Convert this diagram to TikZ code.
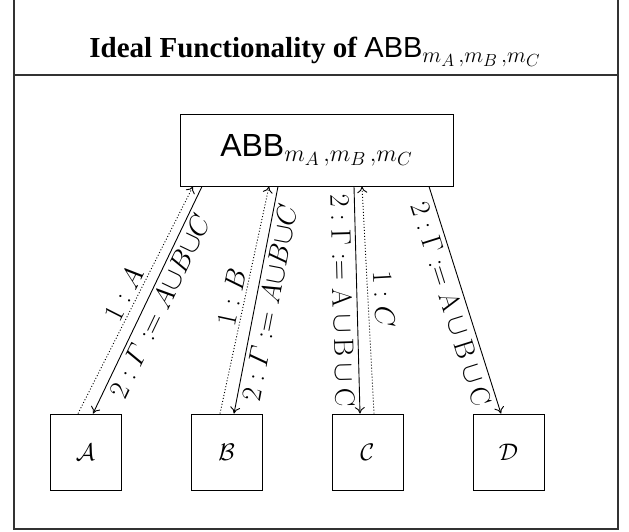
\RequirePackage{fix-cm}
\documentclass[tikz,border=0pt]{standalone}
\usepackage{fontspec}
\setsansfont{Liberation Sans}
\newfontfamily\headfont{Liberation Serif}
\DeclareMathSizes{29}{29}{22}{17.5}
\DeclareMathSizes{32}{32}{24}{19}
\usetikzlibrary{arrows.meta}

\newcommand{\abbname}{\textsf{ABB}$_{m_A\,,m_B\,,m_C}$}

\tikzset{
  frameline/.style={draw=black!80, line width=2pt},
  boxnode/.style={draw, line width=0.9pt, minimum width=71pt, minimum height=76pt, inner sep=0pt,
    font=\fontsize{24}{28}\selectfont},
  msg/.style={line width=0.9pt, -{To[length=6.5pt,width=10pt]}},
  req/.style={msg, dash pattern=on 1pt off 2pt},
  lbl/.style={midway, sloped, inner sep=3.5pt, font=\fontsize{28}{32}\selectfont},
}

\begin{document}
\begin{tikzpicture}[x=1pt, y=-1pt]
  \useasboundingbox (0,0) rectangle (629,531);

  % outer frame and header divider
  \draw[frameline] (13.5,-5) -- (13.5,529) -- (617.5,529) -- (617.5,-5);
  \draw[frameline] (13.5,75) -- (617.5,75);

  \node (title) at (315,52) {\fontsize{29}{35}\selectfont\headfont\bfseries Ideal Functionality of \mdseries\abbname};

  % the functionality
  \node[draw, line width=0.9pt, minimum width=273pt, minimum height=72pt, inner sep=0pt,
        font=\fontsize{32}{38}\selectfont] (abb) at (316.5,150) {\abbname};

  % parties
  \node[boxnode] (A) at (85.5,452) {$\mathcal{A}$};
  \node[boxnode] (B) at (226.5,452) {$\mathcal{B}$};
  \node[boxnode] (C) at (367.5,452) {$\mathcal{C}$};
  \node[boxnode] (D) at (508.5,452) {$\mathcal{D}$};

  % party A
  \draw[req] ([xshift=-7.5pt]A.north) -- node[lbl, above] {$1:A$} ([xshift=-123.5pt]abb.south);
  \draw[msg] ([xshift=-114.5pt]abb.south) -- node[lbl, below] {$2:\mathnormal{\Gamma}:=A{\cup}B{\cup}C$} ([xshift=7.5pt]A.north);

  % party B
  \draw[req] ([xshift=-6.5pt]B.north) -- node[lbl, above] {$1:B$} ([xshift=-47.5pt]abb.south);
  \draw[msg] ([xshift=-38.5pt]abb.south) -- node[lbl, below] {$2:\mathnormal{\Gamma}:=A{\cup}B{\cup}C$} ([xshift=7.5pt]B.north);

  % party C
  \draw[msg] ([xshift=37.5pt]abb.south) -- node[lbl, below] {$2:\Gamma:=\mathrm{A}\cup\mathrm{B}\cup\mathrm{C}$} ([xshift=-7.5pt]C.north);
  \draw[req] ([xshift=6.5pt]C.north) -- node[lbl, above, inner sep=6pt] {$1:C$} ([xshift=45.5pt]abb.south);

  % party D
  \draw[msg] ([xshift=112.5pt]abb.south) -- node[lbl, below] {$2:\Gamma:=\mathrm{A}\cup\mathrm{B}\cup\mathrm{C}$} ([xshift=-7.5pt]D.north);
\end{tikzpicture}
\end{document}
